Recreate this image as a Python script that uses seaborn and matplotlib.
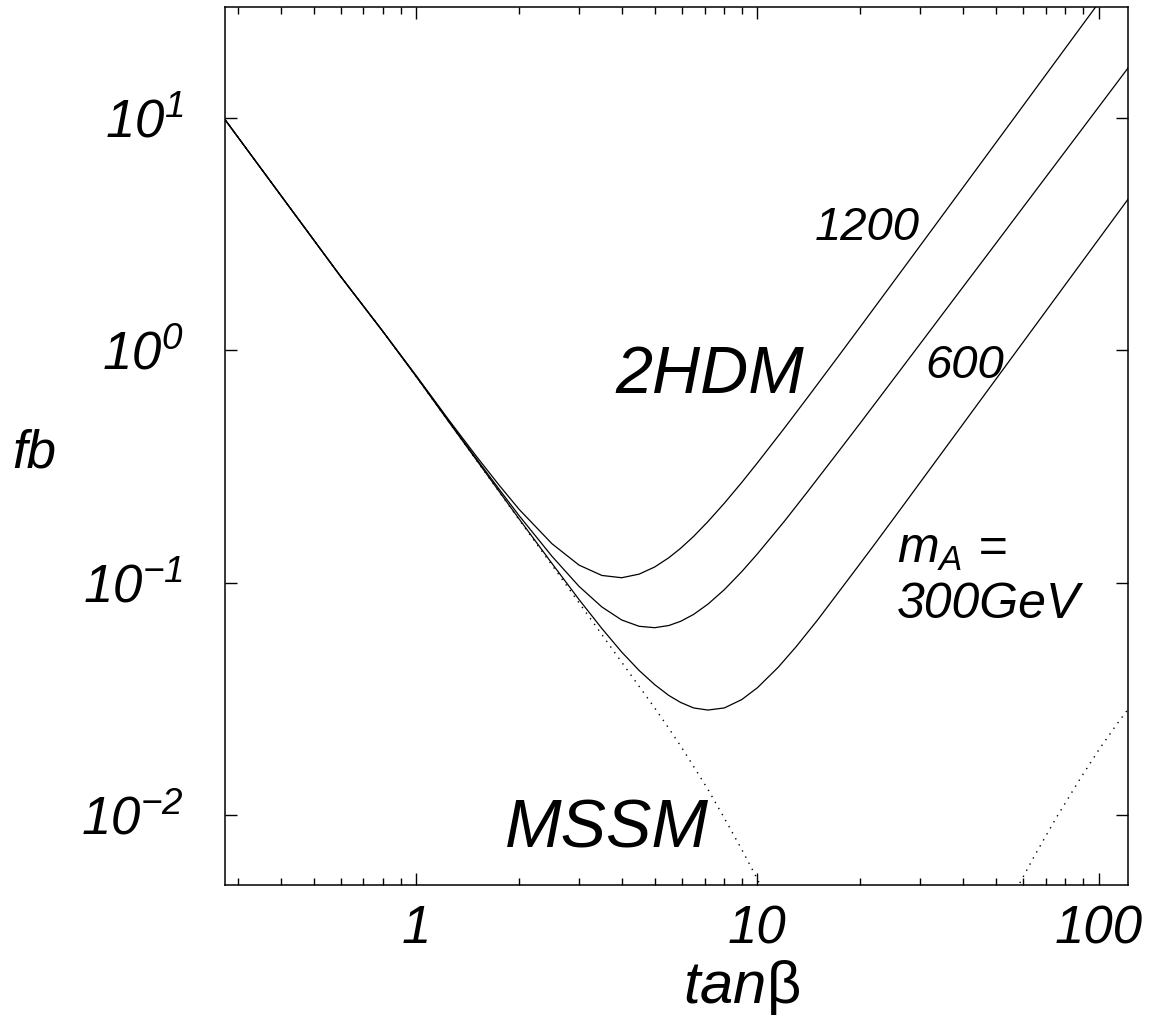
import numpy as np
import pandas as pd
import matplotlib
matplotlib.use("Agg")
import matplotlib.pyplot as plt
import seaborn as sns
from matplotlib.ticker import FixedLocator, NullLocator, FixedFormatter

# ---------------- data ----------------
tan_1200 = [0.275, 0.4, 0.6, 0.8, 1.0, 1.25, 1.5, 1.75, 2.0, 2.5, 3.0, 3.5, 4.0, 4.5,
            5.0, 5.5, 5.96, 6.5, 7.16, 8.0, 9.0, 10.0, 12.0, 14.0, 17.0, 20.0, 25.0,
            30.0, 40.0, 50.0, 60.0, 70.0, 85.0, 100.0, 110.0]
fb_1200 = [9.83, 4.66, 2.08, 1.2, 0.777, 0.498, 0.350, 0.2626, 0.2071, 0.147, 0.119,
           0.1074, 0.105, 0.1088, 0.1168, 0.128, 0.1407, 0.1581, 0.1831, 0.2197, 0.2701,
           0.3277, 0.4625, 0.6237, 0.913, 1.259, 1.961, 2.819, 5.003, 7.81, 11.24, 15.30,
           22.55, 31.2, 37.76]

tan_600 = [0.275, 0.4, 0.6, 0.8, 1.0, 1.25, 1.5, 1.75, 2.0, 2.5, 3.0, 3.5, 4.0, 4.5,
           5.0, 5.5, 5.96, 6.5, 7.16, 8.0, 9.0, 10.0, 12.0, 14.0, 17.0, 20.0, 25.0,
           30.0, 40.0, 50.0, 60.0, 70.0, 85.0, 100.0, 123.0]
fb_600 = [9.83, 4.66, 2.08, 1.2, 0.7726, 0.4917, 0.3419, 0.2522, 0.1946, 0.1298, 0.0964,
          0.0786, 0.0691, 0.0649, 0.064, 0.0654, 0.0682, 0.073, 0.0808, 0.0933, 0.1116,
          0.133, 0.1838, 0.2453, 0.3551, 0.485, 0.748, 1.066, 1.867, 2.881, 4.111, 5.551,
          8.10, 11.12, 16.65]

tan_300 = [0.275, 0.4, 0.6, 0.8, 1.0, 1.25, 1.5, 1.75, 2.0, 2.5, 3.0, 3.5, 4.0, 4.5,
           5.0, 5.5, 5.96, 6.5, 7.16, 8.0, 9.0, 10.0, 11.5, 13.0, 15.0, 18.8, 22.0,
           27.0, 33.0, 40.0, 50.0, 60.0, 70.0, 85.0, 100.0, 123.0]
fb_300 = [9.83, 4.66, 2.08, 1.2, 0.77, 0.4885, 0.3377, 0.2469, 0.1884, 0.1209, 0.0846,
          0.0635, 0.0503, 0.0419, 0.0364, 0.0327, 0.0305, 0.0289, 0.0283, 0.0289, 0.0314,
          0.0353, 0.0432, 0.0531, 0.069, 0.107, 0.1455, 0.2187, 0.3267, 0.48, 0.75, 1.08,
          1.47, 2.1675, 3.0, 4.539]

tan_mssm_low = [0.275, 0.4, 0.6, 0.8, 1.0, 1.25, 1.5, 1.75, 2.0, 2.5, 3.0, 3.5, 4.0,
                4.5, 5.0, 5.5, 5.96, 6.5, 7.16, 8.0, 9.0, 9.9, 10.6]
fb_mssm_low = [9.83, 4.66, 2.08, 1.2, 0.77, 0.488, 0.337, 0.246, 0.187, 0.119, 0.0819,
               0.0598, 0.0455, 0.0358, 0.0289, 0.0236, 0.0198, 0.0162, 0.0129, 0.0097,
               0.0071, 0.00545, 0.00447]

tan_mssm_high = [57.5, 65.0, 75.0, 88.0, 100.0, 112.0, 123.0]
fb_mssm_high = [0.0048, 0.0067, 0.00968, 0.0142, 0.0190, 0.0241, 0.029]

x_major = [1, 10, 100]
x_major_labels = ["1", "10", "100"]
x_minor = [0.3, 0.4, 0.5, 0.6, 0.7, 0.8, 0.9, 2, 3, 4, 5, 6, 7, 8, 9,
           20, 30, 40, 50, 60, 70, 80, 90]
y_major = [1e-2, 1e-1, 1e0, 1e1]
y_major_labels = [r"$10^{-2}$", r"$10^{-1}$", r"$10^{0}$", r"$10^{1}$"]

# ---------------- style ----------------
sns.set_theme(style="ticks")
plt.rcParams["font.family"] = ["Liberation Sans", "DejaVu Sans"]
plt.rcParams["mathtext.fontset"] = "custom"
plt.rcParams["mathtext.it"] = "Liberation Sans:italic"
plt.rcParams["mathtext.rm"] = "Liberation Sans:italic"
plt.rcParams["mathtext.sf"] = "Liberation Sans:italic"
for k in ["text.color", "axes.labelcolor", "xtick.color", "ytick.color", "axes.edgecolor"]:
    plt.rcParams[k] = "black"

W, H = 1152, 1032
fig = plt.figure(figsize=(W / 100, H / 100), dpi=100)
fig.patch.set_facecolor("white")
L, R, T, B = 225, 1128, 7, 885
ax = fig.add_axes([L / W, (H - B) / H, (R - L) / W, (B - T) / H])
ax.set_facecolor("white")

solid = dict(color="black", linewidth=0.9)
dotted = dict(color="black", linewidth=1.0, linestyle=(0, (1.0, 4.0)))

for tx, fy in [(tan_1200, fb_1200), (tan_600, fb_600), (tan_300, fb_300)]:
    df = pd.DataFrame({"tanb": tx, "fb": fy})
    sns.lineplot(data=df, x="tanb", y="fb", ax=ax, estimator=None, sort=True, **solid)
for tx, fy in [(tan_mssm_low, fb_mssm_low), (tan_mssm_high, fb_mssm_high)]:
    df = pd.DataFrame({"tanb": tx, "fb": fy})
    sns.lineplot(data=df, x="tanb", y="fb", ax=ax, estimator=None, sort=True, **dotted)

ax.set_xscale("log")
ax.set_yscale("log")
ax.set_xlim(0.275, 122)
ax.set_ylim(0.005, 30)

ax.xaxis.set_major_locator(FixedLocator(x_major))
ax.xaxis.set_major_formatter(FixedFormatter(x_major_labels))
ax.xaxis.set_minor_locator(FixedLocator(x_minor))
ax.xaxis.set_minor_formatter(FixedFormatter([""] * len(x_minor)))
ax.yaxis.set_major_locator(FixedLocator(y_major))
ax.yaxis.set_major_formatter(FixedFormatter(y_major_labels))
ax.yaxis.set_minor_locator(NullLocator())

ax.tick_params(which="both", direction="in", top=True, right=True, color="black", width=1.0)
ax.tick_params(which="major", length=8.5)
ax.tick_params(which="minor", length=5)
ax.tick_params(axis="x", which="major", labelsize=38, pad=14, labelcolor="black")
ax.tick_params(axis="y", which="major", labelsize=38, pad=30, labelcolor="black")
for lab in ax.get_xticklabels():
    lab.set_fontstyle("italic")
for s in ax.spines.values():
    s.set_linewidth(1.1)
    s.set_color("black")
ax.set_xlabel("")
ax.set_ylabel("")
ax.grid(False)

# ---------------- annotations ----------------
def afrac(px, py):
    return (px - L) / (R - L), (B - py) / (B - T)

txt = dict(transform=ax.transAxes, fontstyle="italic", color="black", ha="left", va="baseline")
ax.text(*afrac(615, 393), "2HDM", fontsize=48, **txt)
ax.text(*afrac(505, 848), "MSSM", fontsize=49, **txt)
ax.text(*afrac(815, 240), "1200", fontsize=34, **txt)
ax.text(*afrac(925, 378), "600", fontsize=34, **txt)
ax.text(*afrac(897, 563), r"$m_A$ =", fontsize=36, **txt)
ax.text(*afrac(897, 618), "300GeV", fontsize=36, **txt)

fig.text(12 / W, 1 - 468 / H, "fb", fontsize=38, fontstyle="italic", color="black",
         ha="left", va="baseline")
fig.text(683 / W, 1 - 1003 / H, r"$\mathit{tan}$β", fontsize=43, color="black",
         ha="left", va="baseline", fontstyle="normal")

fig.savefig("out.png", dpi=100, facecolor="white")
